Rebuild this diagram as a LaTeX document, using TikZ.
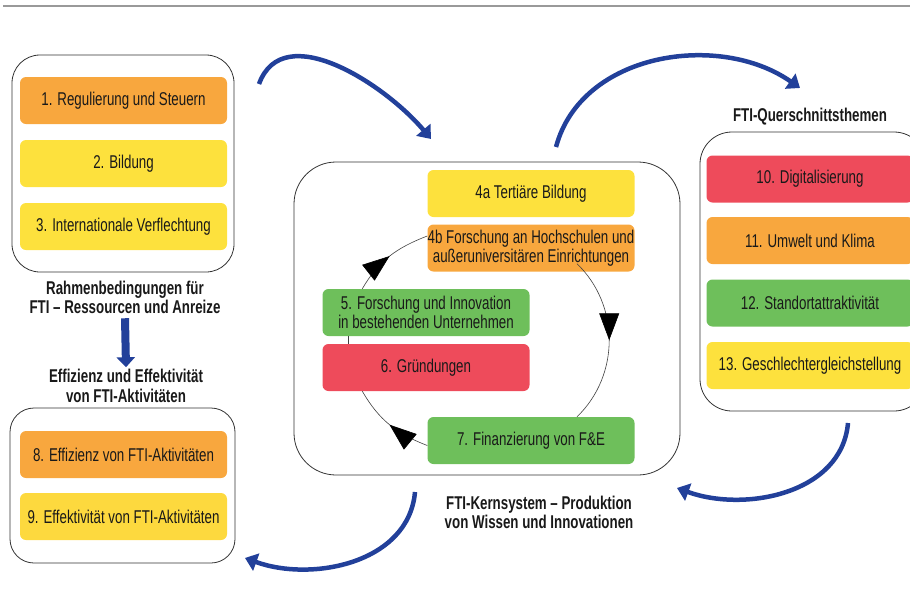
\documentclass[tikz,border=0pt]{standalone}
\usepackage{fontspec}
\setmainfont{Liberation Sans}[FakeStretch=0.72]
\usetikzlibrary{arrows.meta,decorations.markings}
\definecolor{boxorange}{HTML}{F8A73E}
\definecolor{boxyellow}{HTML}{FDE13D}
\definecolor{boxyellowb}{HTML}{FDD93E}
\definecolor{boxgreen}{HTML}{6EBF5B}
\definecolor{boxred}{HTML}{EE4B5B}
\definecolor{flowblue}{HTML}{22409A}

\begin{document}
\begin{tikzpicture}[x=1pt, y=1pt, font=\fontsize{18.5}{19.5}\selectfont,
    every node/.style={inner sep=0pt, align=center, text=black!90},
    item/.style={rectangle, rounded corners=6pt, minimum width=207pt, minimum height=47pt},
    panel/.style={rectangle, draw=black!80, line width=0.8pt},
    caption/.style={font=\fontsize{18.5}{19.5}\selectfont\bfseries},
    cyc/.style={draw=black!75, line width=0.6pt, postaction={decorate},
        decoration={markings, mark=at position 0.5 with {\arrow[black]{Triangle[length=27pt,width=20pt]}}}},
    flow/.style={draw=flowblue, line width=4.5pt, -{Triangle[length=12pt,width=18pt]}}]
    \useasboundingbox (0,0) rectangle (910,-606);
    \clip (0,0) rectangle (910,-606);
    \draw[black!40, line width=1.2pt] (3,-6) -- (910,-6);

    \node[panel, rounded corners=28pt, minimum width=222pt, minimum height=217pt] (frame) at (123,-163.5) {};
    \node[panel, rounded corners=42pt, minimum width=386pt, minimum height=313pt] (core) at (487,-318.5) {};
    \node[panel, rounded corners=32pt, minimum width=226pt, minimum height=279pt] (cross) at (813,-271.5) {};
    \node[panel, rounded corners=24pt, minimum width=225pt, minimum height=155pt] (effect) at (122.5,-485.5) {};

    \node[item, fill=boxorange] (n1) at (123.5,-100.5) {1. Regulierung und Steuern};
    \node[item, fill=boxyellow] (n2) at (123.5,-163.5) {2. Bildung};
    \node[item, fill=boxyellow] (n3) at (123.5,-226.5) {3. Internationale Verflechtung};
    \node[item, fill=boxorange] (n8) at (123.5,-454.5) {8. Effizienz von FTI-Aktivitäten};
    \node[item, fill=boxyellowb] (n9) at (123.5,-516.5) {9. Effektivität von FTI-Aktivitäten};

    \node[item, fill=boxyellow] (n4a) at (531,-193.5) {4a Tertiäre Bildung};
    \node[item, fill=boxorange] (n4b) at (531,-248) {4b Forschung an Hochschulen und\\außeruniversitären Einrichtungen};
    \node[item, fill=boxgreen] (n5) at (426,-312.5) {5. Forschung und Innovation\\in bestehenden Unternehmen};
    \node[item, fill=boxred] (n6) at (426,-367.5) {6. Gründungen};
    \node[item, fill=boxgreen] (n7) at (531,-440.5) {7. Finanzierung von F\&E};

    \node[item, fill=boxred] (n10) at (810,-179) {10. Digitalisierung};
    \node[item, fill=boxorange] (n11) at (810,-240.5) {11. Umwelt und Klima};
    \node[item, fill=boxgreen] (n12) at (810,-303) {12. Standortattraktivität};
    \node[item, fill=boxyellow] (n13) at (810,-365.5) {13. Geschlechtergleichstellung};

    \node[caption] (framelbl) at (125,-297.5) {Rahmenbedingungen für\\FTI – Ressourcen und Anreize};
    \node[caption] (effectlbl) at (126,-386) {Effizienz und Effektivität\\von FTI-Aktivitäten};
    \node[caption] (crosslbl) at (810,-117) {FTI-Querschnittsthemen};
    \node[caption] (corelbl) at (539,-512.5) {FTI-Kernsystem – Produktion\\von Wissen und Innovationen};

    \draw[cyc] ([xshift=40pt]n5.north west) to[out=60,in=201] ([yshift=12pt]n4b.west);
    \draw[cyc] ([xshift=46pt,yshift=8pt]n4b.south) to[out=-44,in=44] ([xshift=46pt]n7.north);
    \draw[cyc] ([yshift=-5pt]n7.west) to[out=159,in=300] ([xshift=40pt]n6.south west);
    \draw[draw=black!75, line width=0.6pt] ([xshift=26pt]n6.north west) -- ([xshift=26pt]n5.south west);

    \coordinate (t1) at (259,-84);  \coordinate (h1) at (431,-139);
    \coordinate (t2) at (556,-147); \coordinate (h2) at (800,-88);
    \coordinate (t3) at (848,-423); \coordinate (h3) at (677,-488);
    \coordinate (t4) at (415,-492); \coordinate (h4) at (245,-558);
    \draw[flow] (t1) to[out=70,in=130] (h1);
    \draw[flow] (t2) to[out=75,in=145] (h2);
    \draw[flow] (t3) to[out=-95,in=-20] (h3);
    \draw[flow] (t4) to[out=-95,in=-20] (h4);
    \draw[flow, line width=8pt, -{Triangle[length=10pt,width=18pt]}] ([yshift=-4pt]framelbl.south) -- ([yshift=2pt]effectlbl.north);
\end{tikzpicture}
\end{document}
